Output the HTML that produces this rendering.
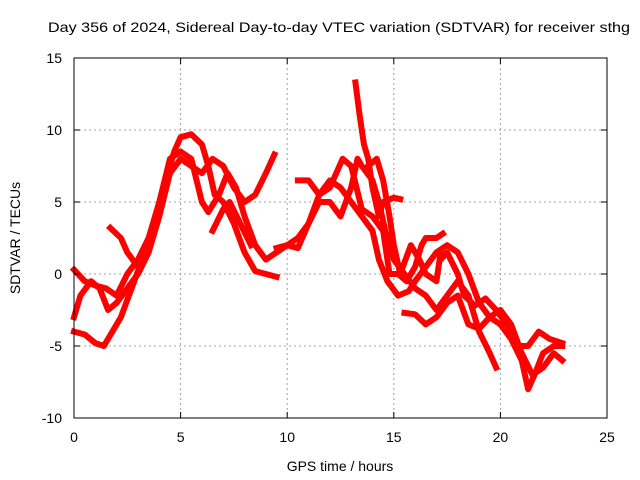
<!DOCTYPE html>
<html><head><meta charset="utf-8"><style>
body{margin:0;background:#fff}
svg{display:block;font-family:"Liberation Sans",sans-serif;font-size:14px}
</style></head><body>
<svg id="chart" width="640" height="480" viewBox="0 0 640 480">
<rect width="640" height="480" fill="#fff"/>
<text x="48" y="32" textLength="582" lengthAdjust="spacingAndGlyphs">Day 356 of 2024, Sidereal Day-to-day VTEC variation (SDTVAR) for receiver sthg</text>
<g id="grid"></g>
<g id="series"></g>
<rect x="74" y="58" width="533" height="360" fill="none" stroke="#000" stroke-width="1"/>
<g id="ticks"></g>
<text x="340" y="471" text-anchor="middle">GPS time / hours</text>
<text transform="translate(20,238) rotate(-90)" text-anchor="middle">SDTVAR / TECUs</text>
</svg>
<script>
const xTicks=[0,5,10,15,20,25];
const yTicks=[-10,-5,0,5,10,15];
const s1=[[0,-3],[0.3,-1.5],[0.8,-0.5],[1.2,-1],[1.6,-2.5],[2,-2],[2.5,-1],[3,0],[3.5,1.5],[4,4],[4.5,7],[5,8],[5.5,7.5],[6,7],[6.5,8],[7,7.5],[7.5,6],[8,5],[8.5,5.5],[9,7],[9.4,8.3]];
const s2=[[0,-4],[0.5,-4.2],[1,-4.8],[1.4,-5],[1.8,-4],[2.2,-3],[2.7,-1],[3.2,1],[3.7,3],[4.2,6],[4.7,8.5],[5,9.5],[5.5,9.7],[6,9],[6.3,7.5],[6.6,5.5],[7,5],[7.5,3.5],[8,1.5],[8.5,0.2],[9,0],[9.5,-0.2]];
const s3=[[0,0.3],[0.5,-0.5],[1,-0.8],[1.5,-1],[2,-1.5],[2.5,0],[3,1],[3.5,2.5],[4,5],[4.5,8],[5,8.5],[5.5,8],[6,5],[6.3,4.3],[6.8,5.5],[7.2,7],[7.6,6],[8,4],[8.5,2],[9,1],[9.5,1.5],[10,2],[10.5,2.5],[11,3.5],[11.5,5.5],[12,6.5],[12.5,6],[13,5],[13.5,4],[14,3],[14.3,1],[14.7,-0.5],[15.2,-1.5],[15.7,-1.2],[16,-0.5],[16.5,0.5],[17,1.5],[17.5,2],[18,1.5],[18.5,0],[19,-2],[19.5,-3],[20,-2.5],[20.5,-3.5],[21,-5.5],[21.5,-7],[22,-6.5],[22.5,-5.5],[22.9,-6]];
const s4=[[1.7,3.2],[2.2,2.5],[2.5,1.5],[3,0.5]];
const s5=[[6.5,3],[7,4.5],[7.3,5],[7.8,3.5],[8.3,2]];
const s6=[[9.5,1.8],[10,2],[10.5,1.8],[11,3.5],[11.5,5],[12,5],[12.5,4],[13,6],[13.3,8],[13.5,7.5],[14,6.5],[14.3,5],[14.6,3],[15,1],[15.5,0],[16,-1],[16.5,-1.5],[17,-2.5],[17.5,-1.5],[18,-0.5],[18.5,-1.5],[19,-4],[19.5,-5.5],[19.8,-6.5]];
const s7=[[13.2,13.3],[13.4,11],[13.6,9],[13.8,8],[14,6],[14.3,4],[14.5,5],[15,5.3],[15.3,5.2]];
const s8=[[10.5,6.5],[11,6.5],[11.5,5.5],[12,6],[12.6,8],[13,7.5],[13.5,4.5],[14,4],[14.5,3],[14.8,0],[15.2,0],[15.6,-0.5],[16,0.5],[16.3,2],[16.5,2.5],[17,2.5],[17.3,2.8]];
const s9=[[15.5,-2.7],[16,-2.8],[16.5,-3.5],[17,-3],[17.5,-2],[18,-1.5],[18.5,-3.5],[19,-3.8],[19.5,-3],[20,-3.5],[20.5,-4.5],[21,-6],[21.3,-8],[21.6,-7],[22,-5.5],[22.5,-5],[22.9,-5]];
const s10=[[17.2,1],[17.5,1.5],[18,0],[18.3,-1.5],[18.8,-2.2],[19.3,-1.7],[19.8,-2.5],[20.3,-3.5],[20.8,-5],[21.3,-5],[21.8,-4],[22.3,-4.5],[22.9,-4.8]];
const s11=[[13.8,7.5],[14.2,8],[14.5,6.5],[14.8,4],[15,2],[15.3,0],[15.8,2],[16.2,1],[16.5,0],[17,-0.5],[17.2,1.5]];
const seriesList=[s1,s2,s3,s4,s5,s6,s7,s8,s9,s10,s11];
const X0=74,X1=607,Y0=418,Y1=58;
function sx(v){return X0+(v-0)/(25-0)*(X1-X0);}
function sy(v){return Y0-(v+10)/(15+10)*(Y0-Y1);}
const NS="http://www.w3.org/2000/svg";
const grid=document.getElementById('grid'),ticks=document.getElementById('ticks'),ser=document.getElementById('series');
function mk(tag,attrs,parent){const e=document.createElementNS(NS,tag);for(const k in attrs)e.setAttribute(k,attrs[k]);parent.appendChild(e);return e;}
xTicks.forEach(t=>{
 const x=sx(t);
 if(t>0&&t<25){const g=mk('line',{x1:x,x2:x,y1:Y1,y2:Y0,stroke:'#a0a0a0','stroke-dasharray':'2,3'},grid);
 
 }
 mk('line',{x1:x,x2:x,y1:Y0,y2:Y0-6,stroke:'#000'},ticks);
 mk('line',{x1:x,x2:x,y1:Y1,y2:Y1+6,stroke:'#000'},ticks);
 const l=mk('text',{x:x,y:Y0+24,'text-anchor':'middle'},ticks);l.textContent=t;
 
 
});
yTicks.forEach(t=>{
 const y=sy(t);
 if(t>-10&&t<15){const g=mk('line',{x1:X0,x2:X1,y1:y,y2:y,stroke:'#a0a0a0','stroke-dasharray':'2,3'},grid);
 
 }
 mk('line',{x1:X0,x2:X0+6,y1:y,y2:y,stroke:'#000'},ticks);
 mk('line',{x1:X1,x2:X1-6,y1:y,y2:y,stroke:'#000'},ticks);
 const l=mk('text',{x:X0-12,y:y+5,'text-anchor':'end'},ticks);l.textContent=t;
 
 
});
seriesList.forEach(s=>{
 const p=mk('polyline',{points:s.map(d=>sx(d[0])+','+sy(d[1])).join(' '),fill:'none',stroke:'#ff0000','stroke-width':6,'stroke-linejoin':'round','stroke-linecap':'square'},ser);
 
 
});
</script>
</body></html>
